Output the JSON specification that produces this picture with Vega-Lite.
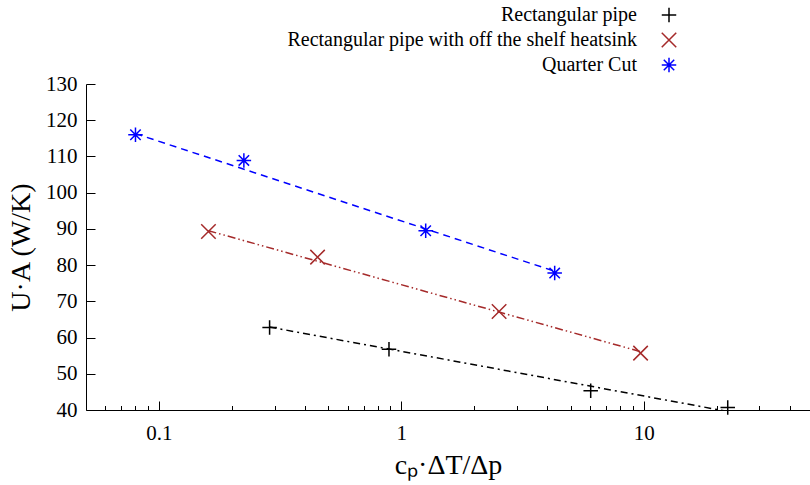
{
  "$schema": "https://vega.github.io/schema/vega-lite/v6.json",
  "width": 724,
  "height": 326,
  "autosize": {"type": "none"},
  "padding": {"left": 86, "top": 84, "right": 0, "bottom": 75},
  "background": "white",
  "config": {
    "view": {"stroke": null},
    "font": "Liberation Serif",
    "axis": {
      "labelFont": "Liberation Serif",
      "titleFont": "Liberation Serif",
      "labelColor": "black",
      "titleColor": "black",
      "domainColor": "black",
      "tickColor": "black",
      "grid": false,
      "titleFontWeight": "normal"
    },
    "legend": {"labelFont": "Liberation Serif"}
  },
  "datasets": {
    "points": [
      {"series": "Rectangular pipe", "x": 0.286, "y": 62.8},
      {"series": "Rectangular pipe", "x": 0.889, "y": 56.8},
      {"series": "Rectangular pipe", "x": 6.04, "y": 45.3},
      {"series": "Rectangular pipe", "x": 22.2, "y": 40.7},
      {"series": "Rectangular pipe with off the shelf heatsink", "x": 0.16, "y": 89.3},
      {"series": "Rectangular pipe with off the shelf heatsink", "x": 0.451, "y": 82.2},
      {"series": "Rectangular pipe with off the shelf heatsink", "x": 2.53, "y": 67.2},
      {"series": "Rectangular pipe with off the shelf heatsink", "x": 9.7, "y": 55.7},
      {"series": "Quarter Cut", "x": 0.08, "y": 116.0},
      {"series": "Quarter Cut", "x": 0.224, "y": 108.9},
      {"series": "Quarter Cut", "x": 1.26, "y": 89.5},
      {"series": "Quarter Cut", "x": 4.29, "y": 77.8}
    ],
    "fits": [
      {"series": "Rectangular pipe", "x": 0.286, "y": 62.9},
      {"series": "Rectangular pipe", "x": 22.2, "y": 39.6},
      {"series": "Rectangular pipe with off the shelf heatsink", "x": 0.16, "y": 89.5},
      {"series": "Rectangular pipe with off the shelf heatsink", "x": 9.7, "y": 56.1},
      {"series": "Quarter Cut", "x": 0.08, "y": 116.3},
      {"series": "Quarter Cut", "x": 4.29, "y": 78.3}
    ]
  },
  "resolve": {"axis": {"x": "independent", "y": "independent"}},
  "layer": [
    {
      "data": {"name": "fits"},
      "transform": [{"filter": "datum.series === 'Rectangular pipe'"}],
      "mark": {"type": "line", "color": "black", "strokeDash": [7, 4, 2, 4], "strokeWidth": 1.5, "clip": true},
      "encoding": {
        "x": {"field": "x", "type": "quantitative",
              "scale": {"type": "log", "domain": [0.05, 48.5], "nice": false, "zero": false},
              "axis": {"orient": "bottom", "values": [0.06,0.07,0.08,0.09,0.1,0.2,0.3,0.4,0.5,0.6,0.7,0.8,0.9,1,2,3,4,5,6,7,8,9,10,20,30,40],
                       "labels": false, "domain": false, "title": null,
                       "tickSize": {"condition": {"test": "indexof([0.1,1,10], datum.value) >= 0", "value": -9}, "value": -4.5},
                       "tickWidth": 1}},
        "y": {"field": "y", "type": "quantitative", "scale": {"domain": [40, 130], "nice": false, "zero": false},
              "axis": {"orient": "left", "values": [40,50,60,70,80,90,100,110,120,130],
                       "labels": false, "domain": false, "title": null,
                       "tickSize": {"condition": {"test": "datum.value >= 0", "value": -9}, "value": -9},
                       "tickWidth": 1}}
      }
    },
    {
      "data": {"name": "fits"},
      "transform": [{"filter": "datum.series === 'Rectangular pipe with off the shelf heatsink'"}],
      "mark": {"type": "line", "color": "#a52a2a", "strokeDash": [8, 3, 1.5, 3, 1.5, 3], "strokeWidth": 1.5, "clip": true},
      "encoding": {
        "x": {"field": "x", "type": "quantitative", "axis": null},
        "y": {"field": "y", "type": "quantitative", "axis": null}
      }
    },
    {
      "data": {"name": "fits"},
      "transform": [{"filter": "datum.series === 'Quarter Cut'"}],
      "mark": {"type": "line", "color": "blue", "strokeDash": [7, 5], "strokeWidth": 1.5, "clip": true},
      "encoding": {
        "x": {"field": "x", "type": "quantitative", "axis": null},
        "y": {"field": "y", "type": "quantitative", "axis": null}
      }
    },
    {
      "data": {"name": "points"},
      "mark": {"type": "point", "filled": false, "strokeWidth": 1.5, "size": 210, "opacity": 1},
      "encoding": {
        "x": {"field": "x", "type": "quantitative",
              "axis": {"orient": "bottom", "values": [0.1, 1, 10], "ticks": false, "domain": true, "domainWidth": 1,
                       "labelExpr": "format(datum.value, '~g')", "labelFontSize": 21, "labelPadding": 12,
                       "labelOverlap": false,
                       "title": "cₚ·ΔT/Δp", "titleFontSize": 28, "titlePadding": 8}},
        "y": {"field": "y", "type": "quantitative",
              "axis": {"orient": "left", "values": [40,50,60,70,80,90,100,110,120,130],
                       "ticks": false, "labelFontSize": 21, "labelPadding": 9, "domainWidth": 1, "labelOverlap": false,
                       "title": "U·A (W/K)", "titleFontSize": 28, "titlePadding": 10}},
        "color": {"field": "series", "type": "nominal",
                  "scale": {"domain": ["Rectangular pipe", "Rectangular pipe with off the shelf heatsink", "Quarter Cut"],
                            "range": ["black", "#a52a2a", "blue"]},
                  "legend": {"orient": "none", "legendX": 573, "legendY": -79, "title": null, "direction": "vertical",
                             "labelAlign": "right", "labelOffset": -42, "labelFont": "Liberation Serif", "labelFontSize": 20,
                             "labelColor": "black", "labelLimit": 600, "symbolSize": 210, "symbolStrokeWidth": 1.5,
                             "rowPadding": 3, "padding": 0}},
        "shape": {"field": "series", "type": "nominal",
                  "scale": {"domain": ["Rectangular pipe", "Rectangular pipe with off the shelf heatsink", "Quarter Cut"],
                            "range": ["M-1,0L1,0M0,-1L0,1", "M-1,-1L1,1M-1,1L1,-1", "M-1,0L1,0M0,-1L0,1M-0.72,-0.72L0.72,0.72M-0.72,0.72L0.72,-0.72"]}}
      }
    }
  ]
}
